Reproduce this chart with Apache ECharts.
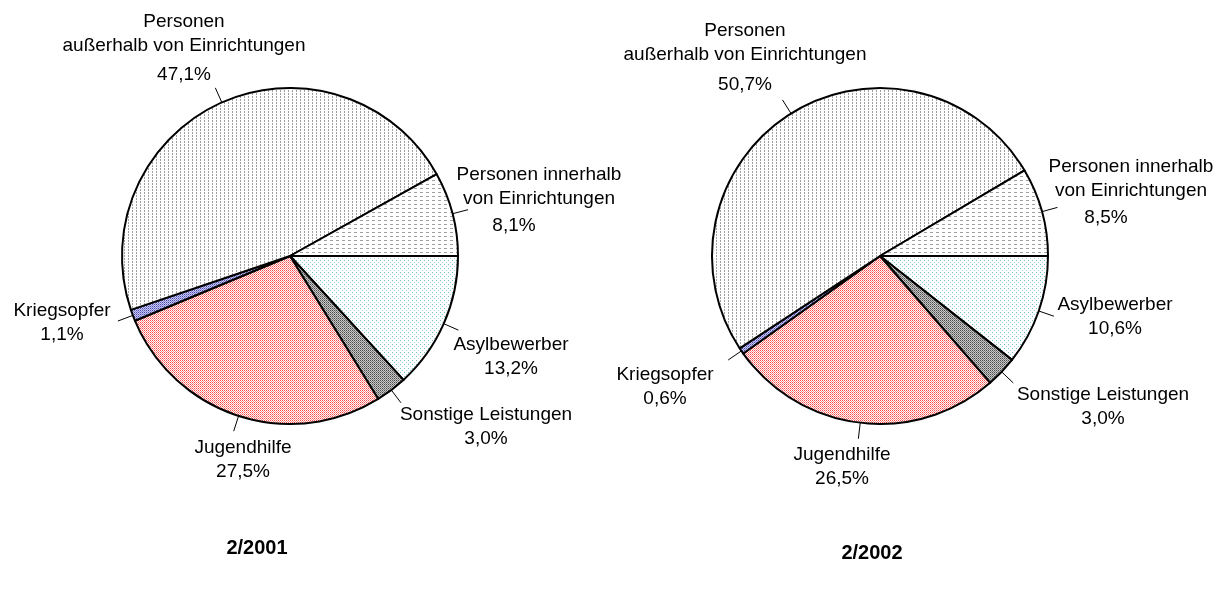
<!DOCTYPE html>
<html>
<head>
<meta charset="utf-8">
<script src="https://cdn.jsdelivr.net/npm/echarts@6/dist/echarts.min.js"></script>
<style>
  html, body { margin: 0; padding: 0; background: #fff; }
  #main { width: 1226px; height: 590px; }
</style>
</head>
<body>
<div id="main"></div>
<script>
// Kategorien (im Uhrzeigersinn ab 3 Uhr, wie im Original)
var categories = ['Asylbewerber', 'Sonstige Leistungen', 'Jugendhilfe', 'Kriegsopfer',
    'Personen\naußerhalb von Einrichtungen', 'Personen innerhalb\nvon Einrichtungen'];
var values2001 = [13.2, 3.0, 27.5, 1.1, 47.1, 8.1];
var values2002 = [10.6, 3.0, 26.5, 0.6, 50.7, 8.5];
var periods = ['2/2001', '2/2002'];

// label placement (center x, top y) per slice
var labelPos = [
    [[511, 333], [486, 403], [243, 436], [62, 299], [184, 10], [539, 163]],
    [[1115, 293], [1103, 383], [842, 443], [665, 363], [745, 19], [1131, 155]]
];

function makePattern(w, h, bg, dots) {
    var c = document.createElement('canvas');
    c.width = w;
    c.height = h;
    var ctx = c.getContext('2d');
    ctx.fillStyle = bg;
    ctx.fillRect(0, 0, w, h);
    dots.forEach(function (d) {
        ctx.fillStyle = d[4];
        ctx.fillRect(d[0], d[1], d[2], d[3]);
    });
    return { image: c, repeat: 'repeat' };
}

var fills = [
    makePattern(4, 4, '#fff', [[0, 0, 1, 1, '#6fc0c0'], [2, 2, 1, 1, '#9fd6d6']]),          // Asyl
    makePattern(2, 2, '#c8c8c8', [[0, 0, 1, 1, '#4a4a4a'], [1, 1, 1, 1, '#808080']]),       // Sonstige
    makePattern(2, 2, '#fff', [[0, 0, 1, 1, '#ff4a4a'], [1, 1, 1, 1, '#ff9090']]),          // Jugendhilfe
    makePattern(2, 2, '#c8c8f0', [[0, 0, 1, 1, '#4848b0'], [1, 1, 1, 1, '#8888d8']]),       // Kriegsopfer
    makePattern(4, 3, '#fff', [[0, 0, 1, 2, '#a0a0a0']]),                                   // außerhalb
    makePattern(6, 4, '#fff', [[0, 0, 3, 1, '#a0a0a0']])                                    // innerhalb
];

function pct(v) {
    return v.toFixed(1).replace('.', ',') + '%';
}

function labelText(name, value, idx, si) {
    var lines = name.split('\n').map(function (s) { return '{n|' + s + '}'; });
    var style = 'p';
    if (idx === 4) style = si === 0 ? 'q' : 'q2';
    if (idx === 5) style = 'r';
    lines.push('{' + style + '|' + pct(value) + '}');
    return lines.join('\n');
}

function buildSeries(values, si) {
    return {
        type: 'pie',
        center: si === 0 ? [290, 256] : [880, 256],
        radius: 168,
        startAngle: 0,
        clockwise: true,
        animation: false,
        silent: true,
        avoidLabelOverlap: false,
        data: values.map(function (v, i) {
            return { name: categories[i], value: v, itemStyle: { color: fills[i] } };
        }),
        itemStyle: { borderColor: '#000', borderWidth: 2 },
        label: {
            show: true,
            position: 'outside',
            color: '#000',
            fontFamily: '"Liberation Sans", Arial, sans-serif',
            fontSize: 19,
            formatter: function (p) { return labelText(p.name, p.value, p.dataIndex, si); },
            rich: {
                n: { fontSize: 19, lineHeight: 24, color: '#000' },
                p: { fontSize: 19, lineHeight: 24, color: '#000' },
                q: { fontSize: 19, lineHeight: 24, color: '#000', padding: [9, 0, 0, 0] },
                q2: { fontSize: 19, lineHeight: 24, color: '#000', padding: [12, 0, 0, 0] },
                r: { fontSize: 19, lineHeight: 24, color: '#000', padding: [6, 50, 0, 0] }
            }
        },
        labelLine: {
            show: true,
            length: 16,
            length2: 0,
            lineStyle: { color: '#000', width: 1 }
        },
        labelLayout: function (p) {
            var pos = labelPos[si][p.dataIndex];
            var pts = p.labelLinePoints;
            var out = { x: pos[0], y: pos[1], align: 'center', verticalAlign: 'top' };
            if (pts) out.labelLinePoints = [pts[0], pts[1], pts[1]];
            return out;
        }
    };
}

var chart = echarts.init(document.getElementById('main'));
chart.setOption({
    backgroundColor: '#fff',
    series: [buildSeries(values2001, 0), buildSeries(values2002, 1)],
    graphic: [
        { type: 'text', x: 257, y: 548, style: { text: periods[0], fill: '#000',
            font: 'bold 20px "Liberation Sans", Arial, sans-serif', textAlign: 'center', textVerticalAlign: 'middle' } },
        { type: 'text', x: 872, y: 553, style: { text: periods[1], fill: '#000',
            font: 'bold 20px "Liberation Sans", Arial, sans-serif', textAlign: 'center', textVerticalAlign: 'middle' } }
    ]
});
</script>
</body>
</html>
